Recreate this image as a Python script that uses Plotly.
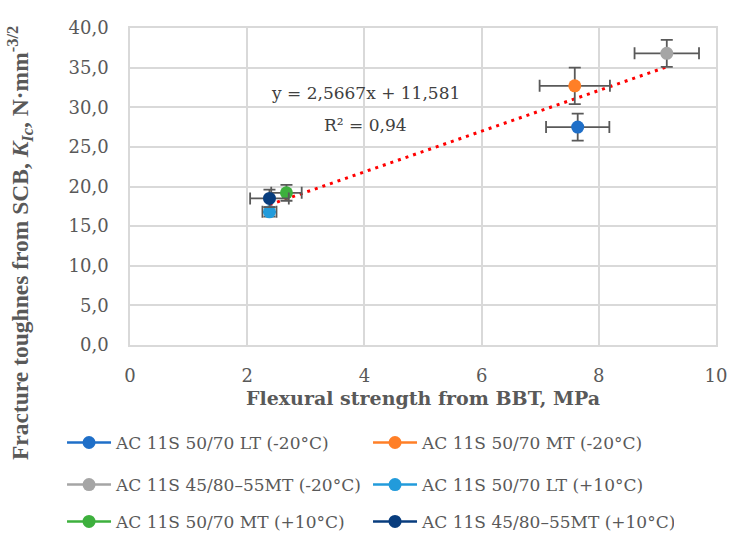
import plotly.graph_objects as go

names = ["AC 11S 50/70 LT (-20°C)", "AC 11S 50/70 MT (-20°C)",
         "AC 11S 45/80–55MT (-20°C)", "AC 11S 50/70 LT (+10°C)",
         "AC 11S 50/70 MT (+10°C)", "AC 11S 45/80–55MT (+10°C)"]
colors = ["#1F6FC8", "#FF7F27", "#A5A5A5", "#229BDB", "#3DB03D", "#083D7E"]
bbt = [7.64, 7.59, 9.16, 2.38, 2.67, 2.38]
scb = [27.5, 32.7, 36.8, 16.8, 19.2, 18.5]
bbt_err = [0.54, 0.60, 0.55, 0.12, 0.26, 0.33]
scb_err = [1.7, 2.3, 1.7, 0.6, 1.0, 1.1]
slope, intercept = 2.5667, 11.581
legend_ids = ["legend", "legend", "legend2", "legend2", "legend3", "legend3"]
x_title = "<b>Flexural strength from BBT, MPa</b>"
y_title = "<b>Fracture toughnes from SCB, <i>K<sub>Ic</sub></i>, N·mm<sup>-3/2</sup></b>"

FONT = "DejaVu Serif"
fig = go.Figure()

# trendline
tx = [min(bbt), max(bbt)]
ty = [slope * v + intercept for v in tx]
fig.add_trace(go.Scatter(x=tx, y=ty, mode="lines", showlegend=False,
                         line=dict(color="#FF0000", width=3, dash="3px,5px"),
                         hoverinfo="skip"))

for i in range(len(names)):
    fig.add_trace(go.Scatter(
        x=[bbt[i]], y=[scb[i]], name=names[i], mode="lines+markers",
        legend=legend_ids[i],
        marker=dict(color=colors[i], size=13),
        line=dict(color=colors[i], width=2.5),
        error_x=dict(type="data", array=[bbt_err[i]], color="#595959", thickness=1.8, width=6),
        error_y=dict(type="data", array=[scb_err[i]], color="#595959", thickness=1.8, width=6),
    ))

gridc = "#D9D9D9"
legcommon = dict(orientation="h", xanchor="left", yanchor="middle",
                 font=dict(family=FONT, size=17, color="#595959"),
                 entrywidth=247, entrywidthmode="pixels",
                 bgcolor="rgba(0,0,0,0)", itemwidth=44)

fig.update_layout(
    width=729, height=534,
    margin=dict(l=130, r=13, t=28, b=189, autoexpand=False),
    paper_bgcolor="white", plot_bgcolor="white",
    separators=", ",
    font=dict(family=FONT, color="#595959"),
    xaxis=dict(range=[0, 10], dtick=2, showgrid=True, gridcolor=gridc, gridwidth=1.5,
               zeroline=False, showline=True, linecolor=gridc, linewidth=1.5, mirror=True,
               tickfont=dict(family=FONT, size=18, color="#595959"), ticks="",
               ticklabelstandoff=14, automargin=False,
               title=dict(text=x_title,
                          font=dict(family=FONT, size=19, color="#595959"), standoff=6)),
    yaxis=dict(range=[0, 40], dtick=5, tickformat=".1f", showgrid=True, gridcolor=gridc,
               gridwidth=1.5, zeroline=False, showline=True, linecolor=gridc, linewidth=1.5,
               mirror=True, ticks="", ticklabelstandoff=16, automargin=False,
               tickfont=dict(family=FONT, size=18, color="#595959")),
    legend=dict(x=-0.116, y=-0.309, **legcommon),
    legend2=dict(x=-0.116, y=-0.4416, **legcommon),
    legend3=dict(x=-0.116, y=-0.558, **legcommon),
    annotations=[
        dict(x=4.02, y=31.8, xref="x", yref="y", text="y = 2,5667x + 11,581", showarrow=False,
             font=dict(family=FONT, size=17, color="#404040")),
        dict(x=4.02, y=27.7, xref="x", yref="y", text="R² = 0,94", showarrow=False,
             font=dict(family=FONT, size=17, color="#404040")),
        dict(x=-0.1877, y=0.3218, xref="paper", yref="paper", text=y_title, showarrow=False,
             textangle=-90, xanchor="center", yanchor="middle",
             font=dict(family="Liberation Serif", size=23.5, color="#595959")),
    ],
)

fig.write_html("out.html", config={"displayModeBar": False},
               post_script="document.body.style.margin='0';")
